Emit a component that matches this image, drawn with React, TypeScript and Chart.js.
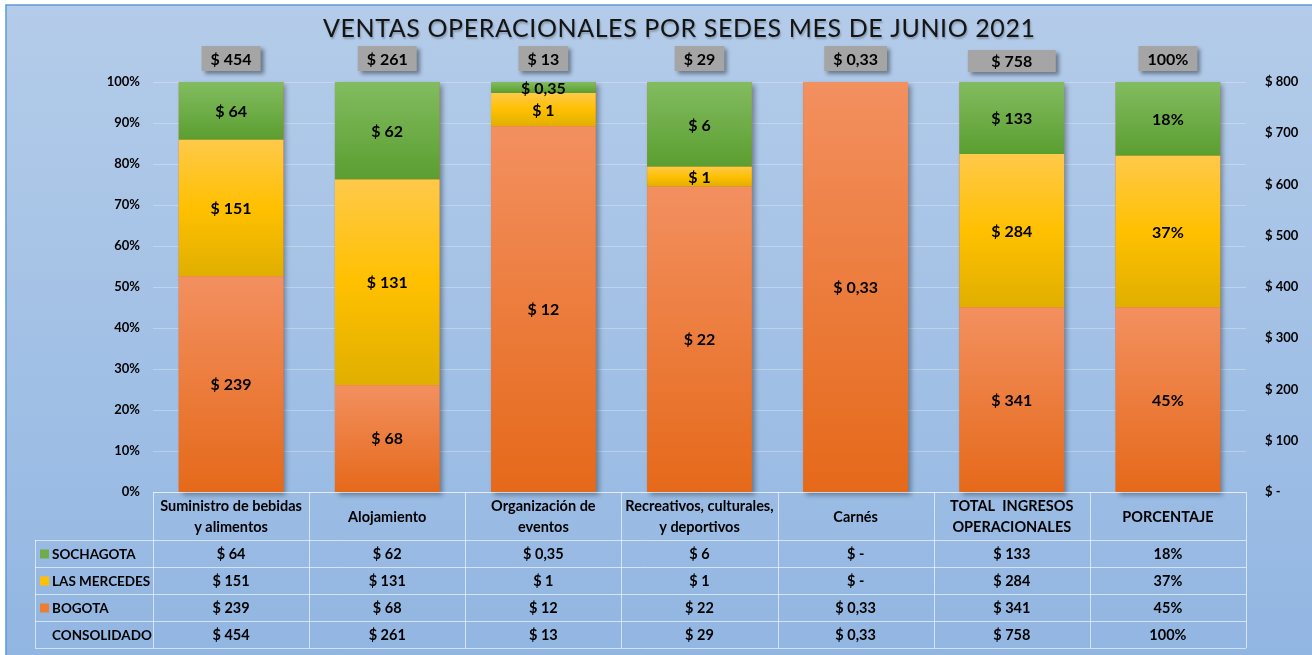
import React, { useEffect, useRef } from "react";
import { Chart, registerables } from "chart.js";

Chart.register(...registerables);

// ---------- DATA ----------
const categories: (string | string[])[] = [
  ["Suministro de bebidas", "y alimentos"],
  "Alojamiento",
  ["Organización de", "eventos"],
  ["Recreativos, culturales,", "y deportivos"],
  "Carnés",
  ["TOTAL  INGRESOS", "OPERACIONALES"],
  "PORCENTAJE",
];
const bogota = [239, 68, 11.6, 21.6, 0.33, 341, 45];
const lasMercedes = [151, 131, 1.05, 1.4, 0, 284, 37];
const sochagota = [64, 62, 0.35, 6.0, 0, 133, 18];
const seriesNames = ["BOGOTA", "LAS MERCEDES", "SOCHAGOTA"];
const tableRowNames = ["SOCHAGOTA", "LAS MERCEDES", "BOGOTA", "CONSOLIDADO"];
const percentColumnIndex = 6;
const rightAxisMax = 800;
const rightAxisStep = 100;
const titleText = "VENTAS OPERACIONALES POR SEDES MES DE JUNIO 2021";

// ---------- derived ----------
const series = [bogota, lasMercedes, sochagota];
const totals = categories.map((_, i) => series.reduce((s, arr) => s + arr[i], 0));
const pct = series.map((arr) => arr.map((v, i) => (totals[i] ? (v / totals[i]) * 100 : 0)));

const FONT = "Lato, 'Open Sans', sans-serif";

function fmt(v: number, i: number): string {
  if (i === percentColumnIndex) return Math.round(v) + "%";
  if (Math.abs(v) < 1e-9) return "$ -";
  if (v < 1) return "$ " + v.toFixed(2).replace(".", ",");
  return "$ " + Math.round(v);
}

const palette = [
  { top: "#f39060", bottom: "#e5691a", flat: "#ed7d31" },
  { top: "#ffc94a", mid: "#ffc000", bottom: "#e0af00", flat: "#ffc000" },
  { top: "#82bc60", bottom: "#5b9e30", flat: "#70ad47" },
];

function gradientFor(di: number) {
  return (ctx: any) => {
    const chart = ctx.chart;
    const ys = chart.scales && chart.scales.y;
    const c = palette[di];
    if (!ys || ctx.type !== "data") return c.flat;
    const i = ctx.dataIndex;
    let base = 0;
    for (let d = 0; d < di; d++) base += pct[d][i];
    const y0 = ys.getPixelForValue(base);
    const y1 = ys.getPixelForValue(base + pct[di][i]);
    if (!isFinite(y0) || !isFinite(y1) || Math.abs(y0 - y1) < 0.5) return c.flat;
    const g = chart.ctx.createLinearGradient(0, y1, 0, y0);
    g.addColorStop(0, c.top);
    if ((c as any).mid) g.addColorStop(0.5, (c as any).mid);
    g.addColorStop(1, c.bottom);
    return g;
  };
}

const decorPlugin = {
  id: "decor",
  beforeDraw(chart: any) {
    const { ctx, width, height } = chart;
    ctx.save();
    ctx.fillStyle = "#ffffff";
    ctx.fillRect(0, 0, width, height);
    const g = ctx.createLinearGradient(0, 5, 0, height);
    g.addColorStop(0, "#b4cce9");
    g.addColorStop(1, "#92b6e2");
    ctx.fillStyle = g;
    ctx.fillRect(6, 5, width - 6, height - 5);
    ctx.strokeStyle = "#5b9bd5";
    ctx.lineWidth = 1.5;
    ctx.beginPath();
    ctx.moveTo(6, height);
    ctx.lineTo(6, 5);
    ctx.lineTo(width, 5);
    ctx.stroke();

    // title
    ctx.font = `25px ${FONT}`;
    ctx.textBaseline = "middle";
    ctx.textAlign = "left";
    const targetW = 712;
    (ctx as any).letterSpacing = "0px";
    const w = ctx.measureText(titleText).width;
    const spacing = Math.max(0, (targetW - w) / (titleText.length - 1));
    (ctx as any).letterSpacing = spacing.toFixed(2) + "px";
    ctx.shadowColor = "rgba(0,0,0,0.25)";
    ctx.shadowOffsetX = 1;
    ctx.shadowOffsetY = 2;
    ctx.shadowBlur = 2;
    ctx.fillStyle = "#141414";
    ctx.fillText(titleText, 323, 29);
    (ctx as any).letterSpacing = "0px";
    ctx.restore();
  },
  beforeDatasetsDraw(chart: any) {
    const { ctx } = chart;
    const ys = chart.scales.y;
    const meta = chart.getDatasetMeta(0);
    ctx.save();
    ctx.shadowColor = "rgba(0,0,0,0.35)";
    ctx.shadowOffsetX = 3;
    ctx.shadowOffsetY = 3;
    ctx.shadowBlur = 5;
    ctx.fillStyle = "#e5691a";
    meta.data.forEach((el: any, i: number) => {
      if (!totals[i]) return;
      const top = ys.getPixelForValue(100);
      const bottom = ys.getPixelForValue(0);
      ctx.fillRect(el.x - el.width / 2, top, el.width, bottom - top);
    });
    ctx.restore();
  },
  afterDatasetsDraw(chart: any) {
    const { ctx } = chart;
    const ys = chart.scales.y;
    ctx.save();
    ctx.textAlign = "center";
    ctx.textBaseline = "middle";
    ctx.font = `bold 16px ${FONT}`;
    ctx.fillStyle = "#000000";
    series.forEach((arr, di) => {
      const meta = chart.getDatasetMeta(di);
      meta.data.forEach((el: any, i: number) => {
        const v = arr[i];
        if (!v) return;
        ctx.fillText(fmt(v, i), el.x, (el.y + el.base) / 2 + 1);
      });
    });

    // total boxes
    const meta0 = chart.getDatasetMeta(0);
    const top100 = ys.getPixelForValue(100);
    meta0.data.forEach((el: any, i: number) => {
      const label = fmt(totals[i], i);
      const tw = ctx.measureText(label).width;
      const bw = i === 5 ? 88 : tw + 18;
      const bh = i === 5 ? 22 : 25;
      const by = i === 5 ? top100 - 10 - bh : top100 - 11 - bh;
      ctx.save();
      ctx.shadowColor = "rgba(0,0,0,0.4)";
      ctx.shadowOffsetX = 3;
      ctx.shadowOffsetY = 3;
      ctx.shadowBlur = 4;
      ctx.fillStyle = "#a5a5a5";
      ctx.fillRect(el.x - bw / 2, by, bw, bh);
      ctx.restore();
      ctx.fillStyle = "#000000";
      ctx.fillText(label, el.x, by + bh / 2 + 1);
    });
    ctx.restore();
  },
  afterDraw(chart: any) {
    const { ctx, chartArea } = chart;
    const xs = chart.scales.x;
    const n = categories.length;
    const cw = (xs.right - xs.left) / n;
    const left0 = xs.left;
    const right = xs.right;
    const labelLeft = 35;
    const headTop = chartArea.bottom;
    const headH = 48;
    const rowH = 27;
    const rowsTop = headTop + headH;
    const rowsBottom = rowsTop + rowH * 4;

    ctx.save();
    ctx.strokeStyle = "rgba(255,255,255,0.6)";
    ctx.lineWidth = 1;
    const hline = (y: number, x0: number, x1: number) => {
      ctx.beginPath();
      ctx.moveTo(x0, Math.round(y) + 0.5);
      ctx.lineTo(x1, Math.round(y) + 0.5);
      ctx.stroke();
    };
    const vline = (x: number, y0: number, y1: number) => {
      ctx.beginPath();
      ctx.moveTo(Math.round(x) + 0.5, y0);
      ctx.lineTo(Math.round(x) + 0.5, y1);
      ctx.stroke();
    };
    hline(headTop, left0, right);
    for (let r = 0; r <= 4; r++) hline(rowsTop + r * rowH, labelLeft, right);
    vline(labelLeft, rowsTop, rowsBottom);
    for (let k = 0; k <= n; k++) vline(left0 + k * cw, headTop, rowsBottom);

    ctx.fillStyle = "#000000";
    ctx.textAlign = "center";
    ctx.textBaseline = "middle";
    ctx.font = `bold 14.5px ${FONT}`;
    categories.forEach((c, i) => {
      const cx = left0 + (i + 0.5) * cw;
      const lines = Array.isArray(c) ? c : [c];
      const lh = 21;
      const cy = headTop + headH / 2;
      lines.forEach((ln, li) => {
        ctx.fillText(ln, cx, cy + (li - (lines.length - 1) / 2) * lh + 1);
      });
    });

    const rowsData = [sochagota, lasMercedes, bogota, totals];
    const rowColors = [palette[2].flat, palette[1].flat, palette[0].flat, null];
    rowsData.forEach((arr, r) => {
      const cy = rowsTop + r * rowH + rowH / 2 + 1;
      const col = rowColors[r];
      ctx.font = `bold 13.5px ${FONT}`;
      if (col) {
        ctx.fillStyle = col;
        ctx.fillRect(40, cy - 5, 9, 9);
      }
      ctx.fillStyle = "#000000";
      ctx.textAlign = "left";
      ctx.fillText(tableRowNames[r], 52, cy);
      ctx.textAlign = "center";
      ctx.font = `bold 14.5px ${FONT}`;
      arr.forEach((v, i) => {
        ctx.fillText(fmt(v, i), left0 + (i + 0.5) * cw, cy);
      });
    });
    ctx.restore();
  },
};

export default function App() {
  const ref = useRef<HTMLCanvasElement | null>(null);
  useEffect(() => {
    document.body.style.margin = "0";
    if (!ref.current) return;
    const labels = categories.map((c) => (Array.isArray(c) ? c.join(" ") : c));
    const chart = new Chart(ref.current, {
      type: "bar",
      data: {
        labels,
        datasets: series.map((_, di) => ({
          label: seriesNames[di],
          data: pct[di],
          backgroundColor: gradientFor(di) as any,
          borderWidth: 0,
          categoryPercentage: 1,
          barPercentage: 0.67,
          yAxisID: "y",
        })),
      },
      options: {
        responsive: false,
        animation: false,
        events: [],
        layout: { padding: { top: 82, bottom: 163, left: 0, right: 0 } },
        plugins: {
          legend: { display: false },
          title: { display: false },
          tooltip: { enabled: false },
        },
        scales: {
          x: {
            stacked: true,
            display: false,
          },
          y: {
            stacked: true,
            position: "left",
            min: 0,
            max: 100,
            ticks: {
              stepSize: 10,
              padding: 13,
              color: "#000000",
              font: { family: FONT, size: 13, weight: "bold" },
              callback: (v: any) => v + "%",
            },
            grid: { color: "rgba(255,255,255,0.28)", drawTicks: false },
            border: { display: false },
            afterFit: (s: any) => {
              s.width = 153;
            },
          },
          y2: {
            position: "right",
            min: 0,
            max: rightAxisMax,
            ticks: {
              stepSize: rightAxisStep,
              padding: 19,
              color: "#000000",
              font: { family: FONT, size: 13, weight: "bold" },
              callback: (v: any) => (v === 0 ? "$ -" : "$ " + v),
            },
            grid: { display: false, drawTicks: false },
            border: { display: false },
            afterFit: (s: any) => {
              s.width = 66;
            },
          },
        },
      },
      plugins: [decorPlugin],
    });
    return () => chart.destroy();
  }, []);
  return (
    <div style={{ width: 1312, height: 655 }}>
      <canvas ref={ref} width={1312} height={655} style={{ display: "block" }} />
    </div>
  );
}
